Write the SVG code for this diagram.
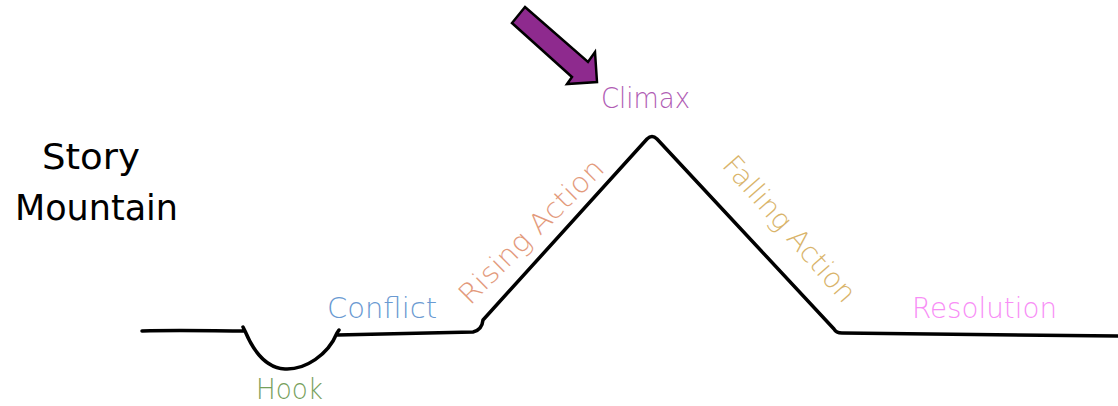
<svg xmlns="http://www.w3.org/2000/svg" width="1118" height="406" viewBox="0 0 1118 406">
<style>
.lbl{font-family:"DejaVu Sans","Liberation Sans",sans-serif;font-weight:200;font-size:28px}
.ttl{font-family:"DejaVu Sans","Liberation Sans",sans-serif;font-size:36px;fill:#000}
.line{fill:none;stroke:#000;stroke-width:3.5;stroke-linecap:round;stroke-linejoin:round}
</style>
<rect width="1118" height="406" fill="#fff"/>
<g id="title">
<text class="ttl" x="42" y="169" textLength="98" lengthAdjust="spacingAndGlyphs">Story</text>
<text class="ttl" x="15" y="220" textLength="163" lengthAdjust="spacingAndGlyphs">Mountain</text>
</g>
<g id="connectors">
<path class="line" d="M142,331 C180,330 215,331 245,331 M243,327 L245,331 C255,355 268,368 285,369 C305,370 328,355 337,333 L339,330 M337,335 C380,334 430,333 473,332 Q482,330 483,320 L647,139 Q652,134 657,139 L834,329 Q836,333 842,333 C950,334 1040,335 1118,336"/>
</g>
<g id="arrow">
<path d="M525,7 L588,62 L595,52 L597,82 L567,84 L572,77 L512,23 Z" fill="#8e2a8e" stroke="#000" stroke-width="2.5" stroke-linejoin="miter"/>
</g>
<g id="climax"><text class="lbl" x="601" y="108" fill="#b05cb4" textLength="89" lengthAdjust="spacingAndGlyphs">Climax</text></g>
<g id="hook"><text class="lbl" x="256" y="399" fill="#77a05c" textLength="67" lengthAdjust="spacingAndGlyphs">Hook</text></g>
<g id="conflict"><text class="lbl" x="327" y="318" fill="#6a9ad2" textLength="110" lengthAdjust="spacingAndGlyphs">Conflict</text></g>
<g id="rising"><text class="lbl" transform="translate(470,306) rotate(-45)" x="0" y="0" fill="#e39a7c" textLength="192" lengthAdjust="spacingAndGlyphs">Rising Action</text></g>
<g id="falling"><text class="lbl" transform="translate(721,166) rotate(48.5)" x="0" y="0" fill="#d9b46a" textLength="185" lengthAdjust="spacingAndGlyphs">Falling Action</text></g>
<g id="resolution"><text class="lbl" x="912" y="318" fill="#f88ef6" textLength="145" lengthAdjust="spacingAndGlyphs">Resolution</text></g>
</svg>
